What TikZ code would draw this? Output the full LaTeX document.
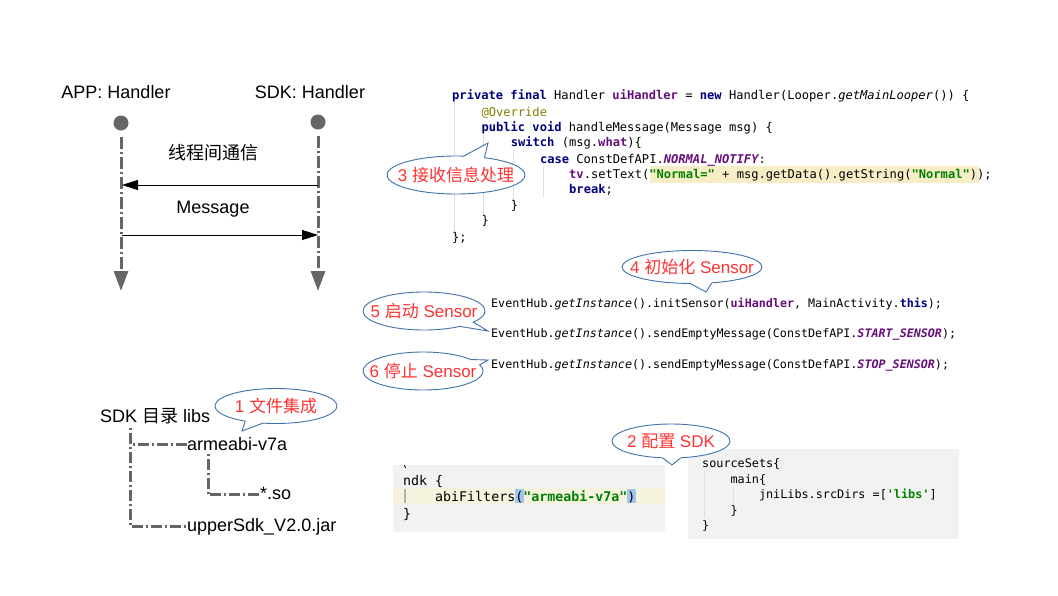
\documentclass[tikz,border=0pt]{standalone}
\usepackage{fontspec}
\setmainfont{Liberation Sans}
\setmonofont{DejaVu Sans Mono}
\newfontfamily\cjk{Noto Sans CJK SC}
\usepackage{xcolor}
\usetikzlibrary{arrows.meta, positioning, calc, shapes.geometric, shapes.callouts}

\definecolor{lifegray}{RGB}{102,102,102}
\definecolor{callblue}{RGB}{65,113,170}
\definecolor{callred}{RGB}{255,51,51}
\definecolor{kwnavy}{RGB}{0,0,128}
\definecolor{kwpurple}{RGB}{102,14,122}
\definecolor{strgreen}{RGB}{0,128,0}
\definecolor{annolive}{RGB}{128,128,0}
\definecolor{codebg}{RGB}{242,242,242}
\definecolor{hlyellow}{RGB}{247,238,200}
\definecolor{hlrow}{RGB}{245,242,222}
\definecolor{hlblue}{RGB}{160,198,240}
\definecolor{guide}{RGB}{222,222,222}

% code colouring
\newcommand{\jkw}[1]{\textcolor{kwnavy}{\bfseries #1}}
\newcommand{\jfld}[1]{\textcolor{kwpurple}{\bfseries #1}}
\newcommand{\jcst}[1]{\textcolor{kwpurple}{\bfseries\itshape #1}}
\newcommand{\jstr}[1]{\textcolor{strgreen}{\bfseries #1}}
\newcommand{\jit}[1]{\textit{#1}}

\tikzset{
  lbl/.style={inner sep=0, font=\fontsize{18}{20}\selectfont},
  lifedot/.style={circle, fill=lifegray, minimum size=15pt, inner sep=0},
  lifeline/.style={lifegray, line width=3pt, shorten <=6pt,
    dash pattern=on 12pt off 3pt on 2pt off 3pt, -{Triangle[length=20pt,width=14pt]}},
  msg/.style={black, line width=0.8pt, -{Triangle[length=16pt,width=10pt]}},
  treeline/.style={lifegray, line width=3pt, dash pattern=on 2pt off 3pt on 11pt off 3pt},
  call/.style={ellipse callout, draw=callblue, fill=white, line width=0.9pt,
    inner sep=0, callout pointer arc=18},
  calltxt/.style={inner sep=0, text=callred, font=\fontsize{17}{19}\selectfont},
  code/.style={anchor=base west, inner sep=0, font=\ttfamily\fontsize{12.1}{14}\selectfont},
  codeb/.style={anchor=base west, inner sep=0, font=\ttfamily\fontsize{11.7}{14}\selectfont},
  codec/.style={anchor=base west, inner sep=0, font=\ttfamily\fontsize{13.3}{15}\selectfont},
  coded/.style={anchor=base west, inner sep=0, font=\ttfamily\fontsize{11.8}{14}\selectfont},
  tree/.style={anchor=base west, inner sep=0, font=\fontsize{18}{20}\selectfont},
  guideline/.style={guide, line width=0.8pt}
}

\begin{document}
\begin{tikzpicture}[x=1pt, y=-1pt]
  \useasboundingbox (0,0) rectangle (1058,595);

  % handlers and messages
  \node[lbl] (app) at (116,92) {APP: Handler};
  \node[lbl] (sdk) at (310,92) {SDK: Handler};
  \node[lifedot] (appdot) at (121,123) {};
  \node[lifedot] (sdkdot) at (318,122) {};
  \coordinate (append) at (121,291);
  \coordinate (sdkend) at (318,291);
  \draw[lifeline] (appdot) -- (append);
  \draw[lifeline] (sdkdot) -- (sdkend);
  \coordinate (app1) at (122,185);
  \coordinate (sdk1) at (318,185);
  \coordinate (app2) at (122,235);
  \coordinate (sdk2) at (318,235);
  \draw[msg] (sdk1) -- (app1);
  \draw[msg] (app2) -- (sdk2);
  \node[lbl] (thread) at (213,153) {\cjk 线程间通信};
  \node[lbl] (message) at (213,209) {Message};

  % handler code
  \fill[hlyellow] (649.5,166) rectangle (979,183);
  \draw[guideline] (454,101) -- (454,240);
  \draw[guideline] (483,135) -- (483,216);
  \draw[guideline] (513,150) -- (513,201);
  \draw[guideline] (543,166) -- (543,197);
  \node[code] (h1) at (452,99.5) {\jkw{private final} Handler \jfld{uiHandler} = \jkw{new} Handler(Looper.\jit{getMainLooper}()) \{};
  \node[code] (h2) at (481.3,116) {\textcolor{annolive}{@Override}};
  \node[code] (h3) at (481.3,131.5) {\jkw{public void} handleMessage(Message msg) \{};
  \node[code] (h4) at (510.6,146.5) {\jkw{switch} (msg.\jfld{what})\{};
  \node[code] (h5) at (539.8,163) {\jkw{case} ConstDefAPI.\jcst{NORMAL\_NOTIFY}:};
  \node[code] (h6) at (569,178.5) {\jfld{tv}.setText(\jstr{"Normal="} + msg.getData().getString(\jstr{"Normal"}));};
  \node[code] (h7) at (569,193.5) {\jkw{break};};
  \node[code] (h8) at (510.6,209.5) {\}};
  \node[code] (h9) at (481.3,224.5) {\}};
  \node[code] (h10) at (452,241) {\};};

  % sensor calls
  \node[codeb] (e1) at (491,307.5) {EventHub.\jit{getInstance}().initSensor(\jfld{uiHandler}, MainActivity.\jkw{this});};
  \node[codeb] (e2) at (491,337.5) {EventHub.\jit{getInstance}().sendEmptyMessage(ConstDefAPI.\jcst{START\_SENSOR});};
  \node[codeb] (e3) at (491,368) {EventHub.\jit{getInstance}().sendEmptyMessage(ConstDefAPI.\jcst{STOP\_SENSOR});};

  % libs tree
  \node[tree] (root) at (100,422.5) {SDK {\cjk 目录} libs};
  \node[tree] (arm) at (187,450.5) {armeabi-v7a};
  \node[tree] (so) at (260,499) {*.so};
  \node[tree] (jar) at (187,531) {upperSdk\_V2.0.jar};
  \coordinate (t1) at (130,428);
  \coordinate (t2) at (208,454);
  \draw[treeline] (t1) |- (arm.west);
  \draw[treeline] (t1) |- (jar.west);
  \draw[treeline] (t2) |- ([yshift=-2pt]so.west);

  % gradle ndk
  \fill[codebg] (393,465) rectangle (665,532);
  \fill[hlrow] (393,488) rectangle (665,504);
  \fill[hlblue] (515,489) rectangle (523.5,503);
  \fill[hlblue] (627,489) rectangle (635.5,503);
  \draw[guide!80!black, line width=1.2pt] (405,489) -- (405,503);
  \draw[black, line width=0.8pt] (404.5,465) -- (405.5,468);
  \node[codec] (n1) at (403,485) {ndk \{};
  \node[codec] (n2) at (435,501) {abiFilters(\jstr{"armeabi-v7a"})};
  \node[codec] (n3) at (403,518.5) {\}};

  % gradle sourceSets
  \fill[codebg] (688,449) rectangle (959,539);
  \draw[guideline] (704,470) -- (704,518);
  \draw[guideline] (733,487) -- (733,505);
  \node[coded] (s1) at (702,467.5) {sourceSets\{};
  \node[coded] (s2) at (730.4,483.5) {main\{};
  \node[coded] (s3) at (758.8,498.5) {jniLibs.srcDirs =[\jstr{'libs'}]};
  \node[coded] (s4) at (730.4,514) {\}};
  \node[coded] (s5) at (702,529.5) {\}};

  % callouts
  \node[call, minimum width=138pt, minimum height=38pt, callout absolute pointer={(488,143)}] (c3) at (456,175) {};
  \node[calltxt] at (c3) {3 {\cjk 接收信息处理}};
  \node[call, minimum width=140pt, minimum height=33pt, callout absolute pointer={(706,292)}] (c4) at (692,267) {};
  \node[calltxt] at (c4) {4 {\cjk 初始化} Sensor};
  \node[call, minimum width=122pt, minimum height=38pt, callout absolute pointer={(488,331)}] (c5) at (424,311) {};
  \node[calltxt] at (c5) {5 {\cjk 启动} Sensor};
  \node[call, minimum width=120pt, minimum height=38pt, callout absolute pointer={(488,360)}] (c6) at (423,371) {};
  \node[calltxt] at (c6) {6 {\cjk 停止} Sensor};
  \node[call, minimum width=122pt, minimum height=35pt, callout absolute pointer={(242,431)}] (c1) at (276,406) {};
  \node[calltxt] at (c1) {1 {\cjk 文件集成}};
  \node[call, minimum width=118pt, minimum height=34pt, callout absolute pointer={(672,465)}] (c2) at (671,441) {};
  \node[calltxt] at (c2) {2 {\cjk 配置} SDK};
\end{tikzpicture}
\end{document}
